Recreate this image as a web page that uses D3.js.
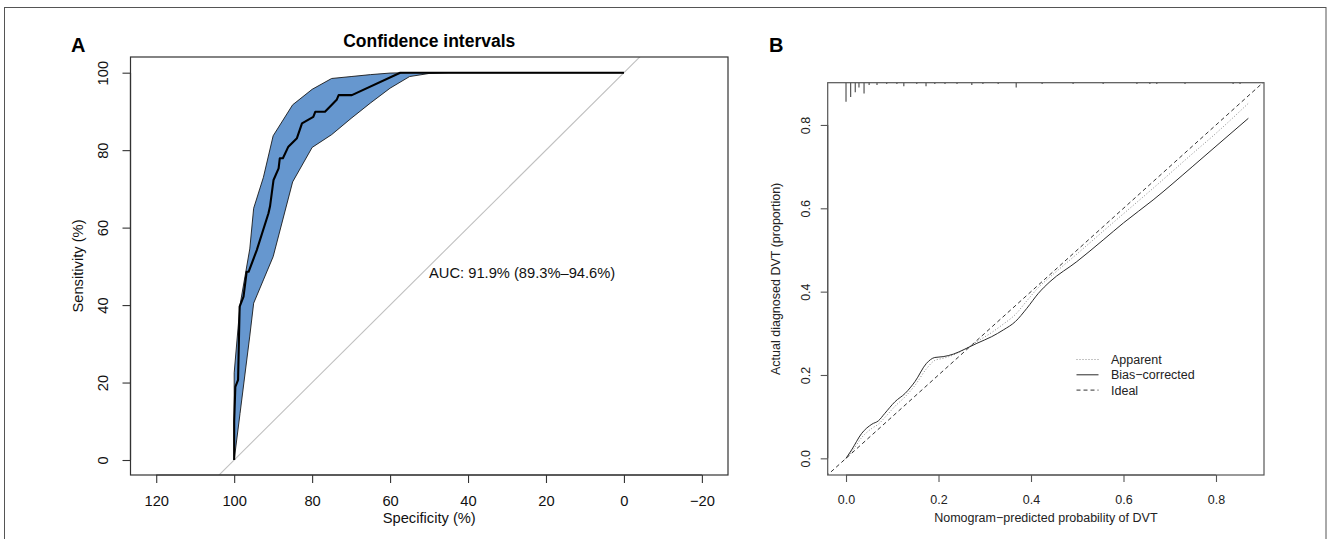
<!DOCTYPE html>
<html>
<head>
<meta charset="utf-8">
<script src="https://cdn.jsdelivr.net/npm/d3@7"></script>
<style>
  html, body { margin: 0; padding: 0; background: #fff; }
  svg { display: block; font-family: "Liberation Sans", Arial, Helvetica, sans-serif; }
</style>
</head>
<body>
<svg id="chart" width="1328" height="539"></svg>
<script>
// ---------------- Panel A data (ROC) ----------------
const rocSpec = [100, 100, 99.7, 99.0, 98.6, 97.6, 96.8, 96.3, 94.2, 91.2, 90.8, 89.9, 88.6, 88.3, 87.5, 86.1, 83.9, 82.6, 79.7, 79.2, 76.7, 73.7, 73.2, 69.8, 57.4, 0];
const rocSens = [0, 10, 18.9, 20.7, 39.6, 42.2, 48.6, 48.6, 54.2, 63.7, 65.5, 72.3, 75.3, 77.9, 77.9, 80.9, 83.1, 86.9, 88.6, 89.9, 89.9, 93.0, 94.2, 94.2, 100, 100];

const ciSpec     = [100, 98.5, 96, 95, 92.5, 90, 85, 80, 75, 70, 65, 60, 55, 50, 45, 40, 35, 30, 25, 20, 15, 10, 5, 0];
const ciSensHigh = [22.5, 40, 54.5, 65, 73, 83.7, 91.7, 95.7, 98.5, 99.0, 99.5, 99.9, 100, 100, 100, 100, 100, 100, 100, 100, 100, 100, 100, 100];
const ciSensLow  = [0, 12, 32, 40.5, 46.5, 52.5, 71.8, 80.7, 84.0, 88.2, 92.2, 96.0, 99.0, 99.8, 100, 100, 100, 100, 100, 100, 100, 100, 100, 100];

const specTicks = [120, 100, 80, 60, 40, 20, 0, -20];
const sensTicks = [0, 20, 40, 60, 80, 100];
const aucLabel = "AUC: 91.9% (89.3%\u201394.6%)";

// ---------------- Panel B data (calibration) ----------------
const calPred     = [0, 0.012, 0.034, 0.056, 0.070, 0.084, 0.106, 0.128, 0.149, 0.174, 0.192, 0.210, 0.232, 0.257, 0.283, 0.315, 0.340, 0.366, 0.391, 0.416, 0.441, 0.499, 0.556, 0.600, 0.664, 0.750, 0.800, 0.870];
const biasCorr    = [0, 0.020, 0.060, 0.082, 0.090, 0.108, 0.136, 0.156, 0.184, 0.228, 0.242, 0.244, 0.250, 0.262, 0.276, 0.292, 0.308, 0.328, 0.360, 0.396, 0.424, 0.472, 0.524, 0.565, 0.620, 0.701, 0.749, 0.816];
const apparent    = [0, 0.015, 0.050, 0.072, 0.082, 0.098, 0.125, 0.148, 0.175, 0.215, 0.235, 0.240, 0.248, 0.262, 0.280, 0.302, 0.322, 0.345, 0.378, 0.410, 0.435, 0.490, 0.545, 0.587, 0.648, 0.732, 0.780, 0.852];

const rugProb  = [0.000, 0.010, 0.020, 0.028, 0.039, 0.050, 0.067, 0.088, 0.110, 0.125, 0.153, 0.173, 0.192, 0.214, 0.240, 0.272, 0.296, 0.329, 0.368, 0.424, 0.491, 0.556, 0.629, 0.657, 0.672, 0.733, 0.837, 0.852];
const rugCount = [16, 12, 8, 4, 9, 2, 2, 1, 1, 3, 1, 3, 1, 1, 1, 2, 1, 1, 4, 1, 1, 1, 1, 1, 1, 1, 1, 1];

const probTicks = [0, 0.2, 0.4, 0.6, 0.8];
const legendLabels = ["Apparent", "Bias\u2212corrected", "Ideal"];

// ---------------- Drawing ----------------
const svg = d3.select("#chart");
svg.append("rect").attr("width", 1328).attr("height", 539).attr("fill", "#fff");
// outer frame
svg.append("rect").attr("x", 4.5).attr("y", 7.5).attr("width", 1321.5).attr("height", 600)
  .attr("fill", "none").attr("stroke", "#555").attr("stroke-width", 1);

const fsA = 14.7;

// ===== Panel A =====
const A = { left: 130.5, right: 728, top: 57, bottom: 475 };
const xA = d3.scaleLinear().domain([126.6, -26.7]).range([A.left, A.right]);
const yA = d3.scaleLinear().domain([-3.87, 104.05]).range([A.bottom, A.top]);

const defs = svg.append("defs");
defs.append("clipPath").attr("id", "clipA").append("rect")
  .attr("x", A.left).attr("y", A.top).attr("width", A.right - A.left).attr("height", A.bottom - A.top);

const gA = svg.append("g");
// diagonal (sens = 100 - spec)
gA.append("line")
  .attr("clip-path", "url(#clipA)")
  .attr("x1", xA(130)).attr("y1", yA(100 - 130))
  .attr("x2", xA(-30)).attr("y2", yA(100 + 30))
  .attr("stroke", "#c0c0c0").attr("stroke-width", 1.1);

// CI band polygon
const bandPts = ciSpec.map((s, i) => [s, ciSensHigh[i]])
  .concat(ciSpec.map((s, i) => [s, ciSensLow[i]]).reverse());
gA.append("path")
  .attr("d", d3.line().x(d => xA(d[0])).y(d => yA(d[1]))(bandPts) + "Z")
  .attr("fill", "#6697cf").attr("stroke", "#1a1a1a").attr("stroke-width", 0.9)
  .attr("stroke-linejoin", "round");

// ROC curve
gA.append("path")
  .attr("d", d3.line().x((d, i) => xA(rocSpec[i])).y((d, i) => yA(rocSens[i]))(rocSpec))
  .attr("fill", "none").attr("stroke", "#000").attr("stroke-width", 2.1)
  .attr("stroke-linejoin", "round");

// box
gA.append("rect").attr("x", A.left).attr("y", A.top).attr("width", A.right - A.left).attr("height", A.bottom - A.top)
  .attr("fill", "none").attr("stroke", "#333").attr("stroke-width", 1.2);

// axes
const axA_x = gA.append("g").attr("transform", `translate(0,${A.bottom})`)
  .call(d3.axisBottom(xA).tickValues(specTicks).tickSize(8).tickSizeOuter(0).tickPadding(6)
    .tickFormat(d => d < 0 ? "\u2212" + Math.abs(d) : String(d)));
axA_x.select(".domain").attr("d", `M${xA(120)},0H${xA(-20)}`).attr("stroke", "#333").attr("stroke-width", 1.2);
axA_x.selectAll(".tick line").attr("stroke", "#333").attr("stroke-width", 1.1);
axA_x.selectAll("text").attr("font-size", fsA).attr("fill", "#111").attr("y", 0).attr("dy", 0)
  .attr("transform", "translate(0,30.5)").attr("dominant-baseline", "auto");

const axA_y = gA.append("g").attr("transform", `translate(${A.left},0)`)
  .call(d3.axisLeft(yA).tickValues(sensTicks).tickSize(8).tickSizeOuter(0));
axA_y.select(".domain").attr("d", `M0,${yA(0)}V${yA(100)}`).attr("stroke", "#333").attr("stroke-width", 1.2);
axA_y.selectAll(".tick line").attr("stroke", "#333").attr("stroke-width", 1.1);
axA_y.selectAll("text").attr("font-size", fsA).attr("fill", "#111")
  .attr("x", 0).attr("dy", 0).attr("text-anchor", "middle")
  .attr("transform", "translate(-23,0) rotate(-90)");

// labels
gA.append("text").attr("x", (A.left + A.right) / 2).attr("y", 523).attr("text-anchor", "middle")
  .attr("font-size", fsA).attr("fill", "#111").text("Specificity (%)");
gA.append("text").attr("transform", `translate(83,${(A.top + A.bottom) / 2}) rotate(-90)`)
  .attr("text-anchor", "middle").attr("font-size", fsA).attr("fill", "#111").text("Sensitivity (%)");
gA.append("text").attr("x", (A.left + A.right) / 2).attr("y", 46.5).attr("text-anchor", "middle")
  .attr("font-size", 17.5).attr("font-weight", "bold").attr("fill", "#000").text("Confidence intervals");
gA.append("text").attr("x", xA(50)).attr("y", yA(50) + 11.5).attr("text-anchor", "start")
  .attr("font-size", fsA).attr("fill", "#111").text(aucLabel);
svg.append("text").attr("x", 71).attr("y", 51.5).attr("font-size", 20).attr("font-weight", "bold").text("A");

// ===== Panel B =====
const B = { left: 827.7, right: 1264, top: 82.7, bottom: 475 };
const xB = d3.scaleLinear().domain([-0.0396, 0.9038]).range([B.left, B.right]);
const yB = d3.scaleLinear().domain([-0.040, 0.9014]).range([B.bottom, B.top]);

defs.append("clipPath").attr("id", "clipB").append("rect")
  .attr("x", B.left).attr("y", B.top).attr("width", B.right - B.left).attr("height", B.bottom - B.top);

const gB = svg.append("g");
// ideal
gB.append("line").attr("clip-path", "url(#clipB)")
  .attr("x1", xB(-0.1)).attr("y1", yB(-0.1)).attr("x2", xB(1)).attr("y2", yB(1))
  .attr("stroke", "#333").attr("stroke-width", 1).attr("stroke-dasharray", "4,3");
// apparent (dotted)
const lineB = (ys) => d3.line().curve(d3.curveMonotoneX).x((d, i) => xB(calPred[i])).y((d, i) => yB(ys[i]))(calPred);
gB.append("path").attr("d", lineB(apparent)).attr("fill", "none")
  .attr("stroke", "#8a8a8a").attr("stroke-width", 1).attr("stroke-dasharray", "1,2");
// bias-corrected (solid)
gB.append("path").attr("d", lineB(biasCorr)).attr("fill", "none")
  .attr("stroke", "#2a2a2a").attr("stroke-width", 1);

// rug
const rugLen = d3.scaleLinear().domain([0, d3.max(rugCount)]).range([0, 19]);
gB.selectAll("line.rug").data(rugProb).join("line").attr("class", "rug")
  .attr("x1", d => xB(d)).attr("x2", d => xB(d))
  .attr("y1", B.top).attr("y2", (d, i) => B.top + rugLen(rugCount[i]))
  .attr("stroke", "#555").attr("stroke-width", 1.2);

// box
gB.append("rect").attr("x", B.left).attr("y", B.top).attr("width", B.right - B.left).attr("height", B.bottom - B.top)
  .attr("fill", "none").attr("stroke", "#555").attr("stroke-width", 1.2);

const axB_x = gB.append("g").attr("transform", `translate(0,${B.bottom})`)
  .call(d3.axisBottom(xB).tickValues(probTicks).tickSize(7).tickSizeOuter(0).tickFormat(d3.format(".1f")));
axB_x.select(".domain").attr("d", `M${xB(0)},0H${xB(0.8)}`).attr("stroke", "#555").attr("stroke-width", 1.2);
axB_x.selectAll(".tick line").attr("stroke", "#555").attr("stroke-width", 1.1);
axB_x.selectAll("text").attr("font-size", 12.5).attr("fill", "#222").attr("y", 0).attr("dy", 0)
  .attr("transform", "translate(0,29)");

const axB_y = gB.append("g").attr("transform", `translate(${B.left},0)`)
  .call(d3.axisLeft(yB).tickValues(probTicks).tickSize(7).tickSizeOuter(0).tickFormat(d3.format(".1f")));
axB_y.select(".domain").attr("d", `M0,${yB(0)}V${yB(0.8)}`).attr("stroke", "#555").attr("stroke-width", 1.2);
axB_y.selectAll(".tick line").attr("stroke", "#555").attr("stroke-width", 1.1);
axB_y.selectAll("text").attr("font-size", 12.5).attr("fill", "#222")
  .attr("x", 0).attr("dy", 0).attr("text-anchor", "middle")
  .attr("transform", "translate(-18,0) rotate(-90)");

gB.append("text").attr("x", (B.left + B.right) / 2).attr("y", 522).attr("text-anchor", "middle")
  .attr("font-size", 12.5).attr("fill", "#222").text("Nomogram\u2212predicted probability of DVT");
gB.append("text").attr("transform", `translate(780,${(B.top + B.bottom) / 2}) rotate(-90)`)
  .attr("text-anchor", "middle").attr("font-size", 12.5).attr("fill", "#222").text("Actual diagnosed DVT (proportion)");
svg.append("text").attr("x", 769).attr("y", 51.5).attr("font-size", 20).attr("font-weight", "bold").text("B");

// legend
const legStyles = [
  { stroke: "#8a8a8a", dash: "1,2" },
  { stroke: "#2a2a2a", dash: null },
  { stroke: "#333", dash: "4,3" }
];
const leg = gB.append("g");
legendLabels.forEach((lab, i) => {
  const y = 359.5 + i * 15.3;
  leg.append("line").attr("x1", 1076.5).attr("x2", 1098.5).attr("y1", y).attr("y2", y)
    .attr("stroke", legStyles[i].stroke).attr("stroke-width", 1)
    .attr("stroke-dasharray", legStyles[i].dash);
  leg.append("text").attr("x", 1111).attr("y", y + 4.5).attr("font-size", 12.5).attr("fill", "#222").text(lab);
});
</script>
</body>
</html>
